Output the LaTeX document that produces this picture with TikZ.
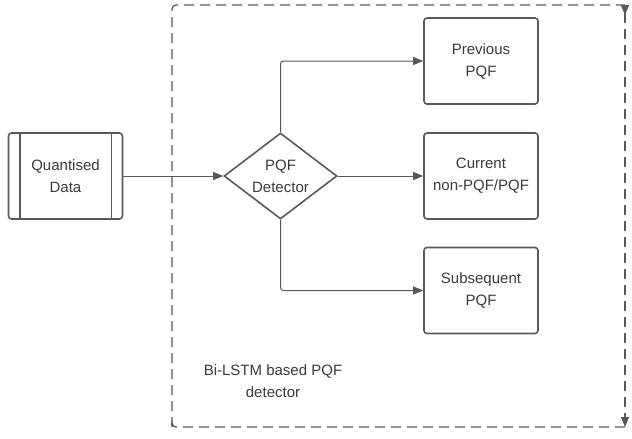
\documentclass[tikz,border=0pt]{standalone}
\usepackage{fontspec}
\setmainfont{Liberation Sans}
\usetikzlibrary{arrows.meta,shapes.geometric}
\definecolor{ln}{HTML}{595959}
\definecolor{tx}{HTML}{3A3A3A}
\begin{document}
\begin{tikzpicture}[x=1pt,y=-1pt,
  box/.style={draw=ln,line width=1.6pt,rounded corners=3pt,minimum width=114pt,minimum height=86pt,align=center,text=tx,font=\fontsize{15}{22}\selectfont,inner sep=0pt},
  dia/.style={draw=ln,line width=1.6pt,diamond,minimum width=113pt,minimum height=86pt,align=center,text=tx,font=\fontsize{15}{22}\selectfont,inner sep=0pt,aspect=1.3},
  conn/.style={draw=ln,line width=1pt,rounded corners=3pt,-{Triangle[length=10pt,width=8pt]}},
  dashline/.style={draw=ln,line width=1.3pt,dash pattern=on 10pt off 6pt}]
\useasboundingbox (0,0) rectangle (632,439);
\node[box] (qd) at (65.5,176) {Quantised\\Data};
\draw[ln,line width=1.6pt] (qd.north west)++(12,0) -- ++(0,86);
\draw[ln,line width=1.6pt] (qd.north east)++(-12,0) -- ++(0,86);
\node[dia] (pd) at (280.5,176) {PQF\\Detector};
\node[box] (prev) at (481,61) {Previous\\PQF};
\node[box] (cur) at (481,176) {Current\\non-PQF/PQF};
\node[box] (sub) at (481,290.5) {Subsequent\\PQF};
\node[text=tx,font=\fontsize{15}{22}\selectfont,align=center] (lbl) at (273,381) {Bi-LSTM based PQF\\detector};
\draw[conn] (qd.east) -- (pd.west);
\draw[conn] (pd.north) |- (prev.west);
\draw[conn] (pd.east) -- (cur.west);
\draw[conn] (pd.south) |- (sub.west);
\coordinate (bl) at (172,427);
\coordinate (tl) at (172,5);
\coordinate (tr) at (625,5);
\coordinate (br) at (625,427);
\draw[dashline,rounded corners=4pt] (bl) -- (tl) -- (tr);
\draw[dashline,{Triangle[reversed,length=10pt,width=8pt]}-{Triangle[length=10pt,width=8pt]}] (tr) -- (br);
\draw[dashline,rounded corners=4pt] (br) -| (bl);
\end{tikzpicture}
\end{document}
